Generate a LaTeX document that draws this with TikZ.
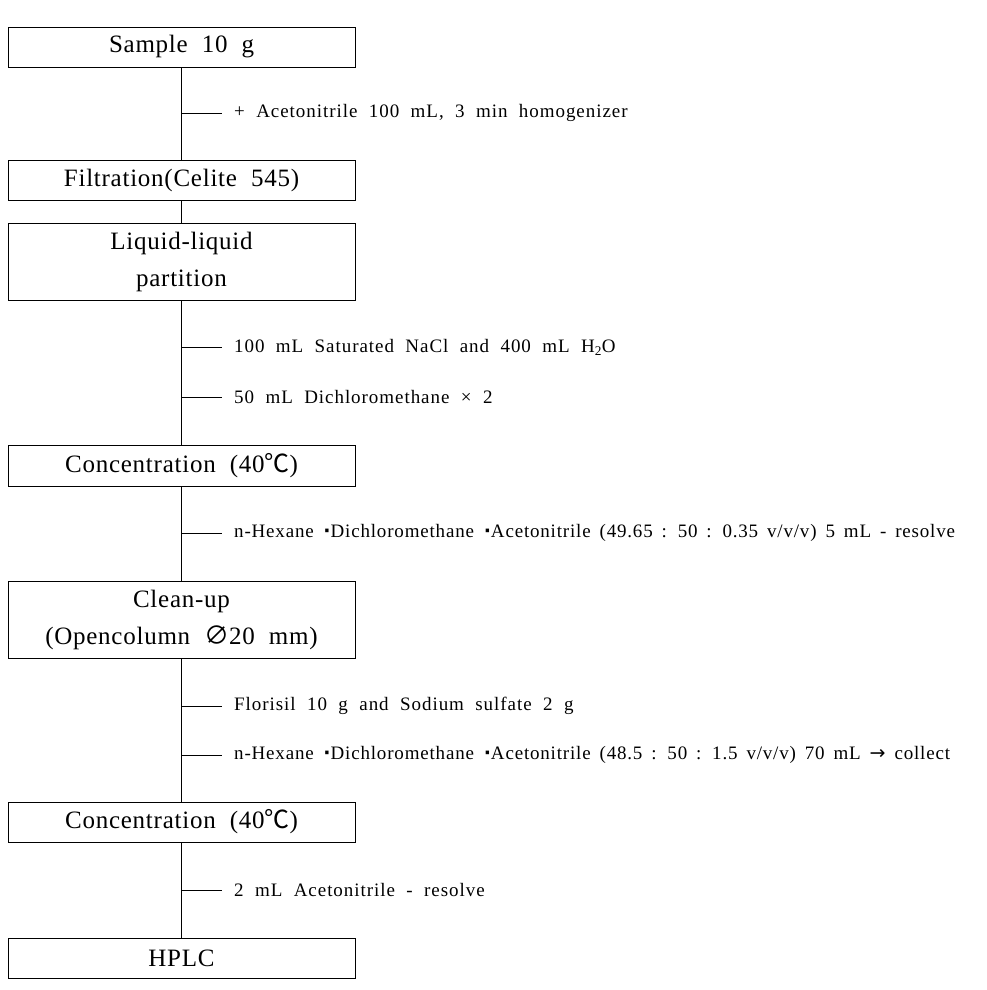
\documentclass[tikz,border=0pt]{standalone}
\usepackage{fontspec}
\setmainfont{Liberation Serif}
\newfontfamily\cjk{Noto Sans CJK KR}
\newfontfamily\symfont{DejaVu Sans}
\newfontfamily\stagefont[LetterSpace=3,WordSpace=2]{Liberation Serif}
\newfontfamily\notefont[LetterSpace=5,WordSpace=2]{Liberation Serif}
\newfontfamily\longnotefont[LetterSpace=4.3,WordSpace=1.6]{Liberation Serif}
\newcommand{\degC}{{\cjk ℃}}
\newcommand{\mdot}{ {\symfont\textbf{·}}}

\begin{document}
\begin{tikzpicture}[x=1pt, y=-1pt,
    stage/.style={draw, rectangle, line width=0.9pt, minimum width=347pt, minimum height=40pt,
                  align=center, font={\stagefont\fontsize{25}{37}\selectfont}},
    note/.style={anchor=west, inner xsep=12pt, inner ysep=0pt, font={\notefont\fontsize{19}{23}\selectfont}},
    longnote/.style={note, font={\longnotefont\fontsize{19}{23}\selectfont}},
    link/.style={line width=0.9pt}]
    \useasboundingbox (0,0) rectangle (986,990);

    % stages
    \node at (181.5,47) [stage] (sample) {Sample 10 g};
    \node at (181.5,180) [stage] (filter) {Filtration(Celite 545)};
    \node at (181.5,261.5) [stage, minimum height=77pt] (partition) {Liquid-liquid\\partition};
    \node at (181.5,465.5) [stage, minimum height=41pt] (conc1) {Concentration (40\degC)};
    \node at (181.5,619.5) [stage, minimum height=77pt] (cleanup) {Clean-up\\(Opencolumn {\cjk ∅}20 mm)};
    \node at (181.5,822) [stage] (conc2) {Concentration (40\degC)};
    \node at (181.5,958) [stage] (hplc) {HPLC};

    % spine
    \draw[link] (sample) -- (filter);
    \draw[link] (filter) -- (partition);
    \draw[link] (partition) -- (conc1);
    \draw[link] (conc1) -- (cleanup);
    \draw[link] (cleanup) -- (conc2);
    \draw[link] (conc2) -- (hplc);

    % side notes
    \coordinate (j1) at (181.5,113);
    \coordinate (j2) at (181.5,347);
    \coordinate (j3) at (181.5,397);
    \coordinate (j4) at (181.5,533);
    \coordinate (j5) at (181.5,706);
    \coordinate (j6) at (181.5,755);
    \coordinate (j7) at (181.5,890);

    \node at (222,113) [note] (n1) {+ Acetonitrile 100 mL, 3 min homogenizer};
    \node at (222,347) [note] (n2) {100 mL Saturated NaCl and 400 mL H\textsubscript{2}O};
    \node at (222,397) [note] (n3) {50 mL Dichloromethane × 2};
    \node at (222,533) [longnote] (n4) {n-Hexane\mdot Dichloromethane\mdot Acetonitrile (49.65 : 50 : 0.35 v/v/v) 5 mL - resolve};
    \node at (222,706) [note] (n5) {Florisil 10 g and Sodium sulfate 2 g};
    \node at (222,755) [longnote] (n6) {n-Hexane\mdot Dichloromethane\mdot Acetonitrile (48.5 : 50 : 1.5 v/v/v) 70 mL {\symfont →} collect};
    \node at (222,890) [note] (n7) {2 mL Acetonitrile - resolve};

    \foreach \j/\n in {j1/n1, j2/n2, j3/n3, j4/n4, j5/n5, j6/n6, j7/n7}
        \draw[link] (\j) -- (\n.west);
\end{tikzpicture}
\end{document}
